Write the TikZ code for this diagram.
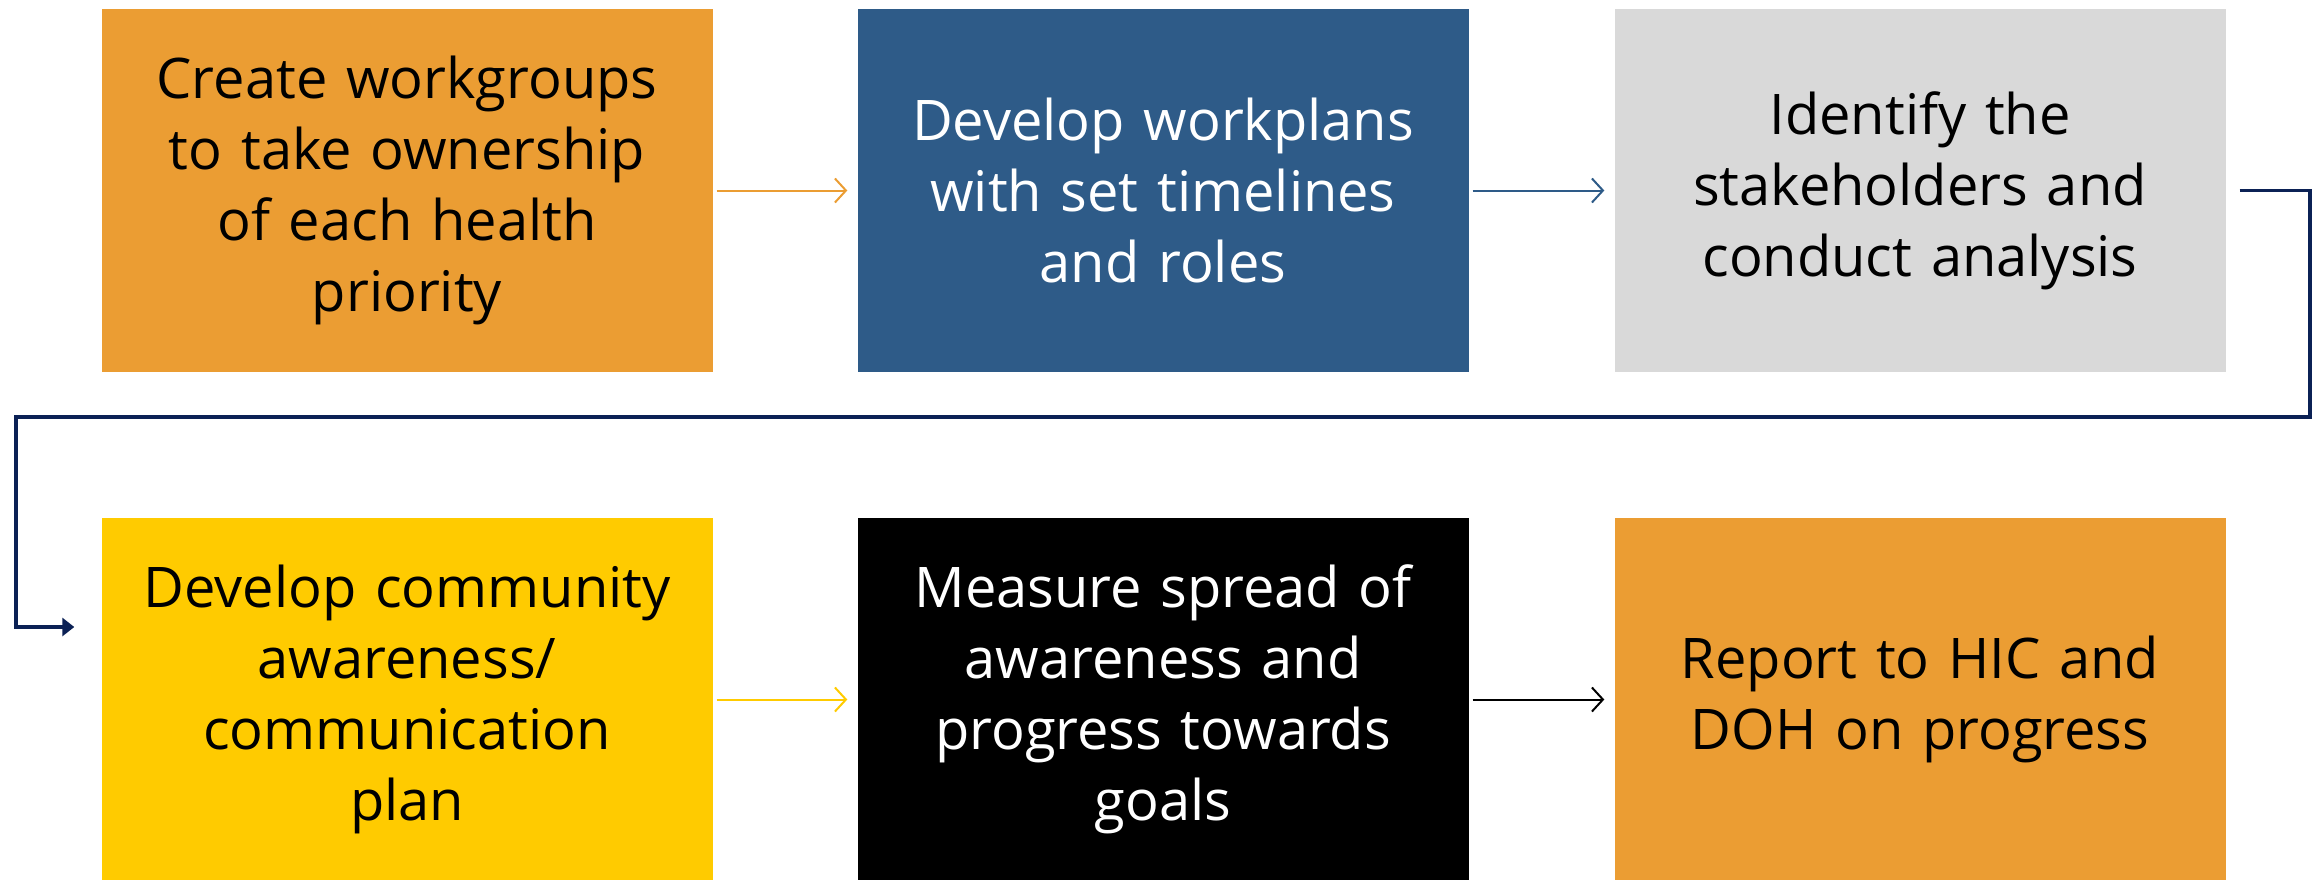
\documentclass[tikz,border=0pt]{standalone}
\usepackage{fontspec}
\setmainfont{Open Sans}
\usetikzlibrary{arrows.meta}
\definecolor{corange}{HTML}{EB9D33}
\definecolor{cblue}{HTML}{2E5B88}
\definecolor{cgray}{HTML}{D9D9D9}
\definecolor{cyellow}{HTML}{FFCB00}
\definecolor{cnavy}{HTML}{0B2155}
\begin{document}
\begin{tikzpicture}[x=1pt,y=-1pt,
  stepbox/.style={minimum width=611pt,minimum height=363pt,inner sep=0pt,
    text width=605pt,align=center,font=\fontsize{56}{71}\selectfont},
  flow/.style={line width=2pt,-{Straight Barb[length=11pt,width=24pt,line width=2pt]},
    shorten <=4pt,shorten >=10pt},
  loop/.style={line width=3.5pt,color=cnavy,-{Triangle[length=12pt,width=18pt]}}]
\useasboundingbox (0,0) rectangle (2321,879);
\node[stepbox,fill=corange,text=black] (b1) at (407,190.5) {Create workgroups\\to take ownership\\of each health\\priority};
\node[stepbox,fill=cblue,text=white] (b2) at (1163,190.5) {Develop workplans\\with set timelines\\and roles};
\node[stepbox,fill=cgray,text=black] (b3) at (1920,190.5) {Identify the\\stakeholders and\\conduct analysis};
\node[stepbox,fill=cyellow,text=black] (b4) at (407,699.5) {Develop community\\awareness/\\communication\\plan};
\node[stepbox,fill=black,text=white] (b5) at (1163,699.5) {Measure spread of\\awareness and\\progress towards\\goals};
\node[stepbox,fill=corange,text=black] (b6) at (1920,699.5) {Report to HIC and\\DOH on progress};
\draw[flow,color=corange] (b1) -- (b2);
\draw[flow,color=cblue] (b2) -- (b3);
\draw[flow,color=cyellow] (b4) -- (b5);
\draw[flow,color=black] (b5) -- (b6);
\coordinate (c1) at (2310,190.5);
\coordinate (c2) at (2310,417);
\coordinate (c3) at (16,417);
\coordinate (c4) at (16,627);
\draw[loop,shorten <=14pt,shorten >=27pt] (b3.east) -- (c1) -- (c2) -- (c3) -- (c4) -- (c4 -| b4.west);
\end{tikzpicture}
\end{document}
